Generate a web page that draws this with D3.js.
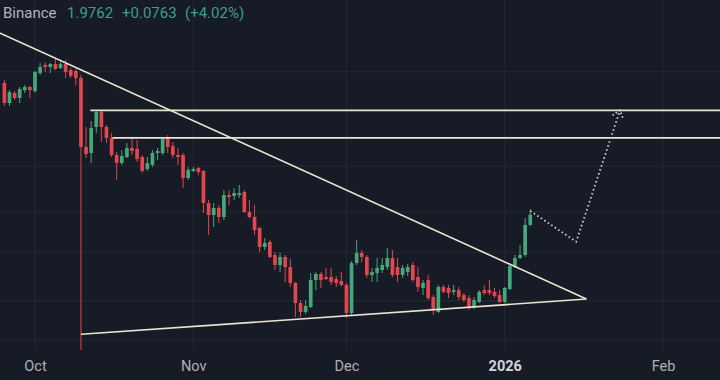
<!DOCTYPE html>
<html><head><meta charset="utf-8">
<script src="https://cdn.jsdelivr.net/npm/d3@7"></script>
<style>html,body{margin:0;padding:0;background:#171b26;overflow:hidden}</style>
</head><body><svg id="c" width="720" height="380"></svg>
<script>
// ---- data ----
const dates = [
"2025-09-25","2025-09-26","2025-09-27","2025-09-28","2025-09-29","2025-09-30",
"2025-10-01","2025-10-02","2025-10-03","2025-10-04","2025-10-05","2025-10-06","2025-10-07","2025-10-08","2025-10-09","2025-10-10",
"2025-10-11","2025-10-12","2025-10-13","2025-10-14","2025-10-15","2025-10-16","2025-10-17","2025-10-18","2025-10-19","2025-10-20",
"2025-10-21","2025-10-22","2025-10-23","2025-10-24","2025-10-25","2025-10-26","2025-10-27","2025-10-28","2025-10-29","2025-10-30","2025-10-31",
"2025-11-01","2025-11-02","2025-11-03","2025-11-04","2025-11-05","2025-11-06","2025-11-07","2025-11-08","2025-11-09","2025-11-10",
"2025-11-11","2025-11-12","2025-11-13","2025-11-14","2025-11-15","2025-11-16","2025-11-17","2025-11-18","2025-11-19","2025-11-20",
"2025-11-21","2025-11-22","2025-11-23","2025-11-24","2025-11-25","2025-11-26","2025-11-27","2025-11-28","2025-11-29","2025-11-30",
"2025-12-01","2025-12-02","2025-12-03","2025-12-04","2025-12-05","2025-12-06","2025-12-07","2025-12-08","2025-12-09","2025-12-10",
"2025-12-11","2025-12-12","2025-12-13","2025-12-14","2025-12-15","2025-12-16","2025-12-17","2025-12-18","2025-12-19","2025-12-20",
"2025-12-21","2025-12-22","2025-12-23","2025-12-24","2025-12-25","2025-12-26","2025-12-27","2025-12-28","2025-12-29","2025-12-30","2025-12-31",
"2026-01-01","2026-01-02","2026-01-03","2026-01-04","2026-01-05","2026-01-06"];
const open = [
3.347,3.089,3.216,3.152,3.254,3.294,
3.241,3.483,3.597,3.568,3.611,3.554,3.611,3.525,3.511,3.414,
2.591,2.529,2.807,2.980,2.807,2.686,2.509,2.430,2.489,2.581,
2.570,2.489,2.373,2.411,2.529,2.529,2.697,2.601,2.509,2.509,2.289,
2.354,2.382,2.354,2.071,1.974,2.030,1.958,2.138,2.130,2.138,
2.164,1.998,1.958,1.874,1.737,1.772,1.682,1.616,1.669,1.603,
1.504,1.388,1.339,1.366,1.522,1.559,1.540,1.540,1.528,1.516,
1.492,1.334,1.629,1.696,1.669,1.553,1.565,1.584,1.603,1.662,
1.603,1.553,1.571,1.616,1.540,1.474,1.522,1.422,1.339,1.480,
1.474,1.451,1.462,1.433,1.416,1.366,1.394,1.462,1.462,1.451,1.433,
1.394,1.468,1.603,1.662,1.682,1.897];
const high = [
3.387,3.254,3.241,3.294,3.320,3.307,
3.511,3.626,3.640,3.626,3.684,3.640,3.669,3.554,3.540,3.456,
2.807,2.875,3.004,3.004,2.829,2.740,2.540,2.560,2.633,2.686,
2.664,2.509,2.489,2.560,2.581,2.686,2.718,2.643,2.581,2.529,2.392,
2.392,2.392,2.363,2.096,2.071,2.054,2.181,2.181,2.199,2.226,
2.181,2.096,2.054,1.881,1.800,1.786,1.702,1.696,1.682,1.655,
1.510,1.405,1.405,1.565,1.571,1.571,1.597,1.597,1.546,1.571,
1.504,1.642,1.786,1.716,1.682,1.597,1.662,1.662,1.730,1.716,
1.662,1.616,1.623,1.636,1.603,1.522,1.553,1.433,1.492,1.492,
1.492,1.492,1.480,1.445,1.433,1.422,1.462,1.492,1.522,1.474,1.462,
1.480,1.629,1.682,1.751,1.950,2.022];
const low = [
3.053,3.053,3.127,3.089,3.216,3.152,
3.216,3.456,3.497,3.483,3.525,3.540,3.414,3.414,3.320,0.600,
2.479,2.430,2.740,2.643,2.633,2.489,2.271,2.411,2.479,2.509,
2.440,2.335,2.354,2.392,2.460,2.509,2.529,2.479,2.411,2.199,2.271,
2.344,2.316,1.990,1.822,1.881,1.912,1.935,2.054,2.096,2.113,
1.990,1.950,1.822,1.702,1.716,1.662,1.584,1.571,1.510,1.480,
1.313,1.313,1.328,1.361,1.462,1.474,1.522,1.492,1.480,1.486,
1.307,1.323,1.616,1.636,1.534,1.510,1.510,1.565,1.584,1.540,
1.510,1.534,1.546,1.510,1.451,1.433,1.405,1.323,1.334,1.445,
1.416,1.433,1.405,1.394,1.350,1.355,1.388,1.433,1.433,1.416,1.388,
1.388,1.462,1.597,1.655,1.669,1.889];
const close = [
3.089,3.228,3.152,3.267,3.294,3.254,
3.497,3.568,3.568,3.611,3.540,3.611,3.497,3.442,3.414,2.591,
2.519,2.795,2.980,2.807,2.686,2.509,2.430,2.499,2.581,2.550,
2.469,2.354,2.430,2.529,2.550,2.675,2.591,2.509,2.489,2.289,2.363,
2.373,2.344,2.071,1.974,2.030,1.958,2.138,2.121,2.155,2.155,
1.998,1.958,1.859,1.737,1.765,1.669,1.616,1.669,1.603,1.504,
1.388,1.339,1.372,1.522,1.559,1.522,1.528,1.510,1.504,1.492,
1.334,1.629,1.696,1.669,1.553,1.571,1.597,1.616,1.662,1.553,
1.553,1.597,1.603,1.522,1.480,1.504,1.416,1.350,1.480,1.451,
1.445,1.462,1.422,1.405,1.361,1.405,1.451,1.445,1.445,1.428,1.394,
1.474,1.610,1.662,1.682,1.897,1.976];

const gridPrices = [3.5, 2.4, 2.0, 1.7, 1.4, 1.2];
const monthTicks = ["2025-10-01","2025-11-01","2025-12-01","2026-01-01","2026-02-01"];
const monthLabels = ["Oct","Nov","Dec","2026","Feb"];
const levelStarts = ["2025-10-11T20:00","2025-10-16T04:00"];
const levelPrices = [3.0, 2.688];
const descLine = [["2025-09-24T00:00", 4.093], ["2026-01-17T00:00", 1.4106]];
const ascLine  = [["2025-10-10T00:00", 1.2248], ["2026-01-17T00:00", 1.4106]];
const projection = [["2026-01-06T00:00", 2.006], ["2026-01-15T00:00", 1.774], ["2026-01-23T14:00", 3.0]];
const headerSymbol = "Binance";
const headerLast = "1.9762";
const headerChange = "+0.0763";
const headerPct = "(+4.02%)";

// ---- setup ----
const W = 720, H = 380, paneH = 350;
const pD = d3.timeParse("%Y-%m-%d"), pT = d3.timeParse("%Y-%m-%dT%H:%M");
const parse = s => s.length > 10 ? pT(s) : pD(s);

const x = d3.scaleTime().domain([pD("2025-10-01"), pD("2026-02-01")]).range([35, 663]);
const y = d3.scaleLog().domain([1.0202, 4.6646]).range([380, 0]);

const GREEN = "#45a87c", RED = "#e2474f", LINE = "#e9e5cf";
const svg = d3.select("#c");
svg.append("rect").attr("width", W).attr("height", H).attr("fill", "#171b26");
svg.append("defs").append("clipPath").attr("id", "pane")
  .append("rect").attr("x", 0).attr("y", 0).attr("width", W).attr("height", paneH);

// grid
const grid = svg.append("g");
grid.selectAll("line.h").data(gridPrices).join("line")
  .attr("x1", 0).attr("x2", W).attr("y1", d => y(d)).attr("y2", d => y(d))
  .attr("stroke", "#242834").attr("stroke-width", 1);
grid.selectAll("line.v").data(monthTicks).join("line")
  .attr("y1", 0).attr("y2", paneH).attr("x1", d => x(pD(d))).attr("x2", d => x(pD(d)))
  .attr("stroke", "#242834").attr("stroke-width", 1);

// x axis labels
const xAxis = d3.axisBottom(x).tickValues(monthTicks.map(pD))
  .tickFormat((d, i) => monthLabels[i]).tickSize(0).tickPadding(0);
const ax = svg.append("g").attr("transform", `translate(0,${paneH})`).call(xAxis);
ax.select(".domain").remove();
ax.selectAll("text").attr("dy", null).attr("y", 21)
  .attr("font-family", "Roboto, sans-serif").attr("font-size", 14.5)
  .attr("fill", "#aeb1ba")
  .attr("font-weight", (d, i) => monthLabels[i] === "2026" ? 700 : 400)
  .attr("fill", (d, i) => monthLabels[i] === "2026" ? "#d1d4dc" : "#aeb1ba");

// candles
const candles = dates.map((d, i) => ({ date: pD(d), o: open[i], h: high[i], l: low[i], c: close[i] }));
const plot = svg.append("g").attr("clip-path", "url(#pane)");
const dayW = x(pD("2025-10-02")) - x(pD("2025-10-01"));
const bw = dayW * 0.72;
const cg = plot.selectAll("g.c").data(candles).join("g");
cg.append("line")
  .attr("x1", d => x(d.date)).attr("x2", d => x(d.date))
  .attr("y1", d => y(d.h)).attr("y2", d => y(d.l))
  .attr("stroke", d => d.c >= d.o ? GREEN : RED).attr("stroke-width", 1);
cg.append("rect")
  .attr("x", d => x(d.date) - bw / 2).attr("width", bw)
  .attr("y", d => y(Math.max(d.o, d.c)))
  .attr("height", d => Math.max(1, Math.abs(y(d.o) - y(d.c))))
  .attr("fill", d => d.c >= d.o ? GREEN : RED);

// horizontal levels
plot.selectAll("line.lvl").data(levelPrices).join("line")
  .attr("x1", (d, i) => x(parse(levelStarts[i]))).attr("x2", W)
  .attr("y1", d => y(d)).attr("y2", d => y(d))
  .attr("stroke", LINE).attr("stroke-width", 1.8);

// trend lines
const lineGen = d3.line().x(d => x(parse(d[0]))).y(d => y(d[1]));
plot.append("path").attr("d", lineGen(descLine)).attr("fill", "none")
  .attr("stroke", LINE).attr("stroke-width", 1.6);
plot.append("path").attr("d", lineGen(ascLine)).attr("fill", "none")
  .attr("stroke", LINE).attr("stroke-width", 1.6);

// projection path (dotted) with arrow head
plot.append("path").attr("d", lineGen(projection)).attr("fill", "none")
  .attr("stroke", "#c9ccd3").attr("stroke-width", 1.8).attr("stroke-dasharray", "1.6 2.6");
const pts = projection.map(d => [x(parse(d[0])), y(d[1])]);
const tip = pts[pts.length - 1], prev = pts[pts.length - 2];
const ang = Math.atan2(prev[1] - tip[1], prev[0] - tip[0]);
const headLen = 9, spread = 38 * Math.PI / 180;
const b1 = [tip[0] + headLen * Math.cos(ang + spread), tip[1] + headLen * Math.sin(ang + spread)];
const b2 = [tip[0] + headLen * Math.cos(ang - spread), tip[1] + headLen * Math.sin(ang - spread)];
plot.append("path").attr("d", d3.line()([b1, tip, b2])).attr("fill", "none")
  .attr("stroke", "#c9ccd3").attr("stroke-width", 1.8).attr("stroke-dasharray", "1.6 2.2");

// header
const hdr = svg.append("g").attr("font-family", "Roboto, sans-serif").attr("font-size", 15);
hdr.append("text").attr("x", 3).attr("y", 18).attr("fill", "#b2b5be").text(headerSymbol);
hdr.append("text").attr("x", 67).attr("y", 18).attr("fill", "#3f9e89").text(headerLast);
hdr.append("text").attr("x", 122).attr("y", 18).attr("fill", "#3f9e89").text(headerChange);
hdr.append("text").attr("x", 185).attr("y", 18).attr("fill", "#3f9e89").text(headerPct);
</script></body></html>
